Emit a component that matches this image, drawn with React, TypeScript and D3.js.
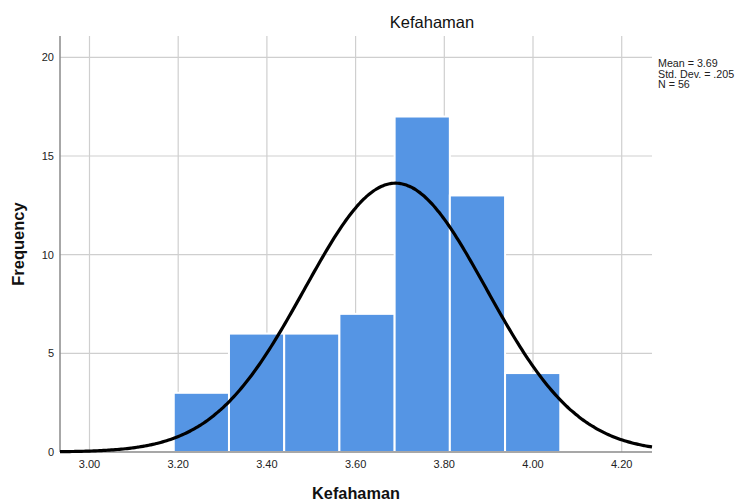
import React from "react";
import * as d3 from "d3";

const binStart = 3.19;
const binWidth = 0.1245;
const counts = [3, 6, 6, 7, 17, 13, 4];
const xTicks = [3.0, 3.2, 3.4, 3.6, 3.8, 4.0, 4.2];
const yTicks = [0, 5, 10, 15, 20];
const mean = 3.69;
const sd = 0.205;
const n = 56;
const title = "Kefahaman";
const xLabel = "Kefahaman";
const yLabel = "Frequency";
const statsLines = ["Mean = 3.69", "Std. Dev. = .205", "N = 56"];

const W = 738;
const H = 501;
const m = { left: 60, right: 652, top: 36, bottom: 452 };

export default function App() {
  const x = d3.scaleLinear().domain([2.9335, 4.2683]).range([m.left, m.right]);
  const y = d3.scaleLinear().domain([0, 21.08]).range([m.bottom, m.top]);

  const bins = counts.map((c, i) => ({
    x0: binStart + i * binWidth,
    x1: binStart + (i + 1) * binWidth,
    c,
  }));

  const pdf = (v: number) =>
    (n * 0.125 * Math.exp(-0.5 * ((v - mean) / sd) ** 2)) / (sd * Math.sqrt(2 * Math.PI));
  const pts = d3.range(0, 301).map((i) => {
    const v = x.domain()[0] + (i / 300) * (x.domain()[1] - x.domain()[0]);
    return [v, pdf(v)] as [number, number];
  });
  const line = d3
    .line<[number, number]>()
    .x((d) => x(d[0]))
    .y((d) => y(d[1]))
    .curve(d3.curveBasis);

  const font = "Arial, 'Liberation Sans', sans-serif";

  return (
    <svg
      width={W}
      height={H}
      style={{ position: "absolute", left: 0, top: 0, background: "#fff" }}
      fontFamily={font}
    >
      <rect x={0} y={0} width={W} height={H} fill="#fff" />
      {/* grid */}
      {xTicks.map((t) => (
        <line key={"gx" + t} x1={x(t)} x2={x(t)} y1={m.top} y2={m.bottom} stroke="#cfcfcf" strokeWidth={1.2} />
      ))}
      {yTicks.filter((t) => t > 0).map((t) => (
        <line key={"gy" + t} x1={m.left} x2={m.right} y1={y(t)} y2={y(t)} stroke="#cfcfcf" strokeWidth={1.2} />
      ))}
      {/* bars */}
      {bins.map((b, i) => (
        <rect
          key={i}
          x={x(b.x0)}
          y={y(b.c)}
          width={x(b.x1) - x(b.x0)}
          height={y(0) - y(b.c)}
          fill="#5595e4"
          stroke="#ffffff"
          strokeWidth={2}
        />
      ))}
      {/* axes */}
      <line x1={m.left} x2={m.left} y1={m.top} y2={m.bottom} stroke="#8a8a8a" strokeWidth={1.5} />
      <line x1={m.left} x2={m.right} y1={m.bottom} y2={m.bottom} stroke="#8a8a8a" strokeWidth={1.5} />
      {/* curve */}
      <path d={line(pts) || ""} fill="none" stroke="#000" strokeWidth={3.2} />
      {/* tick labels */}
      {yTicks.map((t) => (
        <text key={"ty" + t} x={54} y={y(t) + 4} textAnchor="end" fontSize={11} fill="#222">
          {t}
        </text>
      ))}
      {xTicks.map((t) => (
        <text key={"tx" + t} x={x(t)} y={468} textAnchor="middle" fontSize={11} fill="#222">
          {t.toFixed(2)}
        </text>
      ))}
      {/* titles */}
      <text x={432} y={28} textAnchor="middle" fontSize={16.5} fill="#111">
        {title}
      </text>
      <text x={356} y={499} textAnchor="middle" fontSize={16.3} fontWeight="bold" fill="#111">
        {xLabel}
      </text>
      <text
        transform={`translate(24,244) rotate(-90)`}
        textAnchor="middle"
        fontSize={16.5}
        fontWeight="bold"
        fill="#111"
      >
        {yLabel}
      </text>
      {statsLines.map((s, i) => (
        <text key={s} x={658} y={67 + i * 10.7} fontSize={10.7} fill="#222">
          {s}
        </text>
      ))}
    </svg>
  );
}
